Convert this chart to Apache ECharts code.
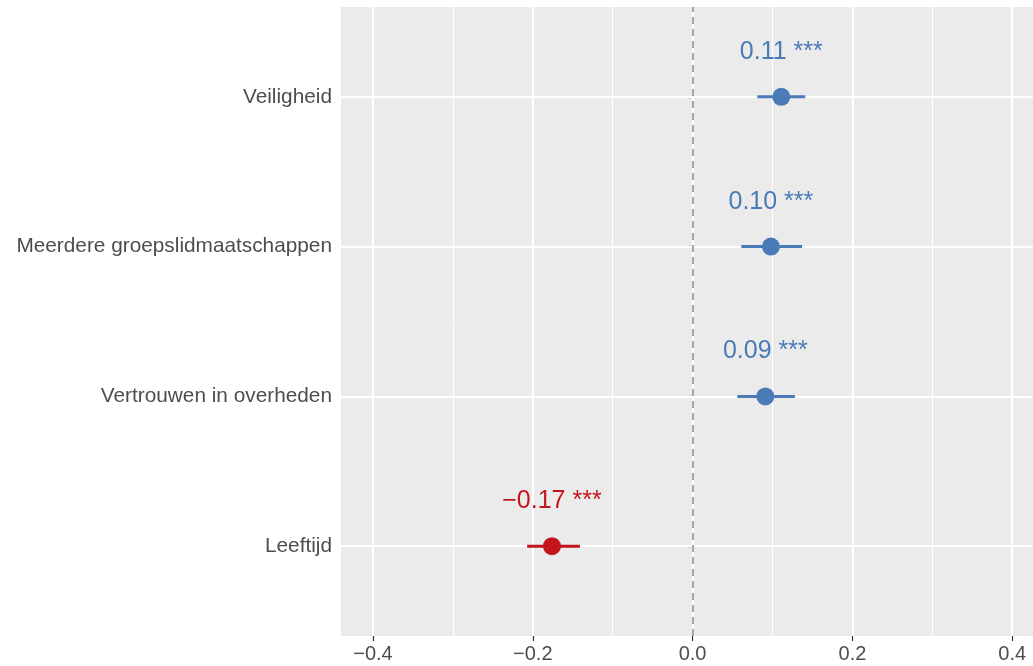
<!DOCTYPE html>
<html>
<head>
<meta charset="utf-8">
<script src="https://cdn.jsdelivr.net/npm/echarts@6/dist/echarts.min.js"></script>
<style>
html,body{margin:0;padding:0;background:#fff;}
#chart{width:1033px;height:666px;}
</style>
</head>
<body>
<div id="chart"></div>
<script>
// Data (bottom to top)
const categories = ['Leeftijd', 'Vertrouwen in overheden', 'Meerdere groepslidmaatschappen', 'Veiligheid'];
const estimates = [-0.176, 0.091, 0.098, 0.111];
const ciLow = [-0.207, 0.056, 0.061, 0.081];
const ciHigh = [-0.141, 0.128, 0.137, 0.141];
const pointLabels = ['\u22120.17 ***', '0.09 ***', '0.10 ***', '0.11 ***'];
const xTicks = [-0.4, -0.2, 0, 0.2, 0.4];
const xTickLabels = ['\u22120.4', '\u22120.2', '0.0', '0.2', '0.4'];
const xMinor = [-0.3, -0.1, 0.1, 0.3];
const yPositions = [1, 2, 3, 4];

const BLUE = '#4A7BB7';
const RED = '#C3161C';
const FONT = "'Liberation Sans', Arial, Helvetica, sans-serif";

const chart = echarts.init(document.getElementById('chart'), null, {renderer: 'canvas'});

const colorOf = v => v < 0 ? RED : BLUE;

const pointData = estimates.map((v, i) => ({
  value: [v, yPositions[i]],
  itemStyle: {color: colorOf(v), opacity: 1},
  label: {color: colorOf(v), formatter: pointLabels[i]}
}));

const ciSeries = estimates.map((v, i) => ({
  type: 'line', z: 10, silent: true,
  symbol: 'none', showSymbol: false,
  data: [[ciLow[i], yPositions[i]], [ciHigh[i], yPositions[i]]],
  lineStyle: {color: colorOf(v), width: 3, opacity: 1, cap: 'butt'},
  itemStyle: {color: colorOf(v)},
  emphasis: {disabled: true}
}));

const option = {
  animation: false,
  backgroundColor: '#ffffff',
  grid: {
    left: 341, right: 0, top: 7, bottom: 30,
    show: true, backgroundColor: '#EBEBEB', borderWidth: 0,
    containLabel: false
  },
  xAxis: {
    type: 'value',
    min: -0.44, max: 0.426,
    splitLine: {show: false},
    axisLine: {show: false},
    axisTick: {show: true, customValues: xTicks, length: 5, lineStyle: {color: '#333333', width: 1.2}},
    axisLabel: {
      show: true, customValues: xTicks, margin: 8,
      color: '#4D4D4D', fontSize: 20, fontFamily: FONT,
      formatter: v => {
        const idx = xTicks.findIndex(t => Math.abs(t - v) < 1e-9);
        return idx >= 0 ? xTickLabels[idx] : '';
      }
    }
  },
  yAxis: {
    type: 'value',
    min: 0.4, max: 4.6,
    splitLine: {show: false},
    axisLine: {show: false},
    axisTick: {show: true, customValues: yPositions, length: 5, lineStyle: {color: '#333333', width: 1.2}},
    axisLabel: {
      show: true, customValues: yPositions, margin: 9,
      color: '#4D4D4D', fontSize: 20.8, fontFamily: FONT,
      formatter: v => {
        const idx = yPositions.indexOf(Math.round(v));
        return idx >= 0 ? categories[idx] : '';
      }
    }
  },
  series: [
    {
      type: 'line', data: [], silent: true, z: 1,
      markLine: {
        z: 1,
        silent: true, symbol: 'none', animation: false,
        label: {show: false},
        emphasis: {disabled: true},
        data: [
          ...xMinor.map(v => ({xAxis: v, lineStyle: {color: '#FFFFFF', width: 1, type: 'solid'}})),
          ...xTicks.map(v => ({xAxis: v, lineStyle: {color: '#FFFFFF', width: 2, type: 'solid'}})),
          ...yPositions.map(v => ({yAxis: v, lineStyle: {color: '#FFFFFF', width: 2, type: 'solid'}}))
        ]
      }
    },
    {
      type: 'line', data: [], silent: true, z: 2,
      markLine: {
        z: 2,
        silent: true, symbol: 'none', animation: false,
        label: {show: false},
        emphasis: {disabled: true},
        data: [{xAxis: 0, lineStyle: {color: '#9E9E9E', width: 1.8, type: [7, 5]}}]
      }
    },
    ...ciSeries,
    {
      type: 'scatter', z: 11, silent: true,
      symbol: 'circle', symbolSize: 18,
      itemStyle: {opacity: 1},
      data: pointData,
      label: {
        show: true, position: 'inside', offset: [0, -45],
        fontSize: 25, fontFamily: FONT, opacity: 1
      }
    }
  ]
};
chart.setOption(option);
</script>
</body>
</html>
